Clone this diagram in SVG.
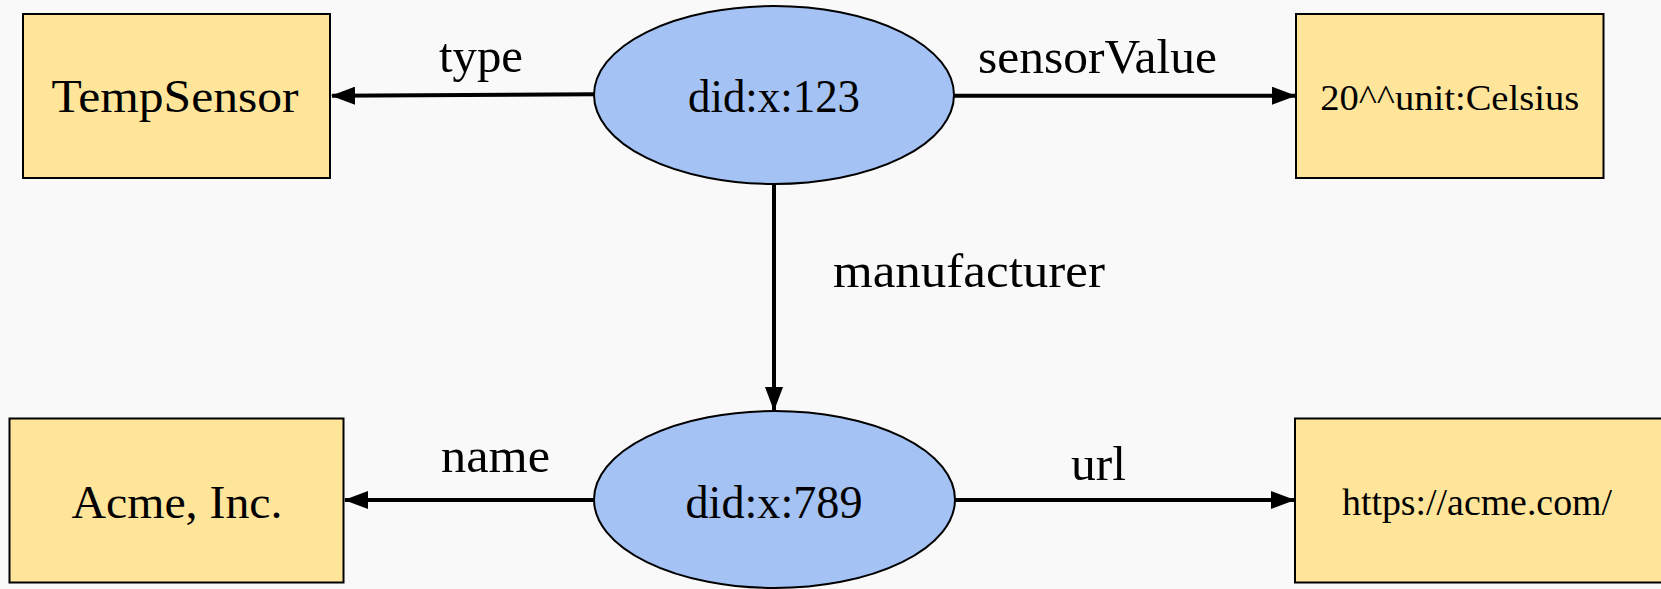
<svg xmlns="http://www.w3.org/2000/svg" width="1661" height="589" viewBox="0 0 1661 589">
<style>
.box{fill:#ffe599;stroke:#000;stroke-width:2}
.ell{fill:#a4c2f4;stroke:#000;stroke-width:2}
.t{font-family:"Liberation Serif",serif;fill:#000;text-anchor:middle}
.edge{stroke:#000;stroke-width:4;fill:none}
</style>
<defs>
<marker id="ah" markerWidth="24" markerHeight="18" refX="23" refY="9" orient="auto" markerUnits="userSpaceOnUse">
<path d="M0,0 L24,9 L0,18 Z" fill="#000"/>
</marker>
</defs>
<rect width="1661" height="589" fill="#f9f9f9"/>
<g id="connectors">
<line class="edge" x1="594" y1="94.3" x2="332" y2="95.8" marker-end="url(#ah)"/>
<text class="t" x="481" y="72" font-size="48" textLength="84" lengthAdjust="spacingAndGlyphs">type</text>
<line class="edge" x1="954" y1="95.7" x2="1295" y2="95.7" marker-end="url(#ah)"/>
<text class="t" x="1097.5" y="73" font-size="48" textLength="239" lengthAdjust="spacingAndGlyphs">sensorValue</text>
<line class="edge" x1="774" y1="184" x2="774" y2="410" marker-end="url(#ah)"/>
<text class="t" x="969" y="287" font-size="48" textLength="272" lengthAdjust="spacingAndGlyphs">manufacturer</text>
<line class="edge" x1="594" y1="500" x2="345" y2="500" marker-end="url(#ah)"/>
<text class="t" x="495.6" y="472" font-size="48" textLength="109" lengthAdjust="spacingAndGlyphs">name</text>
<line class="edge" x1="955" y1="500" x2="1294" y2="500" marker-end="url(#ah)"/>
<text class="t" x="1098.6" y="480" font-size="48" textLength="55" lengthAdjust="spacingAndGlyphs">url</text>
</g>
<g id="n-tempsensor">
<rect class="box" x="23" y="14" width="307" height="164"/>
<text class="t" x="175" y="111.5" font-size="46" textLength="247" lengthAdjust="spacingAndGlyphs">TempSensor</text>
</g>
<g id="n-did123">
<ellipse class="ell" cx="774" cy="95" rx="180" ry="89"/>
<text class="t" x="774" y="111.5" font-size="46" textLength="172" lengthAdjust="spacingAndGlyphs">did:x:123</text>
</g>
<g id="n-celsius">
<rect class="box" x="1296" y="14" width="307.5" height="164"/>
<text class="t" x="1449.7" y="109.5" font-size="36" textLength="259" lengthAdjust="spacingAndGlyphs">20^^unit:Celsius</text>
</g>
<g id="n-acme">
<rect class="box" x="9.5" y="418.5" width="334" height="164"/>
<text class="t" x="177" y="517.5" font-size="46" textLength="211" lengthAdjust="spacingAndGlyphs">Acme, Inc.</text>
</g>
<g id="n-did789">
<ellipse class="ell" cx="774.5" cy="499.5" rx="180.5" ry="88.5"/>
<text class="t" x="774" y="517.5" font-size="46" textLength="177" lengthAdjust="spacingAndGlyphs">did:x:789</text>
</g>
<g id="n-url">
<rect class="box" x="1295" y="418.5" width="380" height="164"/>
<text class="t" x="1477" y="515" font-size="37" textLength="270" lengthAdjust="spacingAndGlyphs">https://acme.com/</text>
</g>
</svg>
